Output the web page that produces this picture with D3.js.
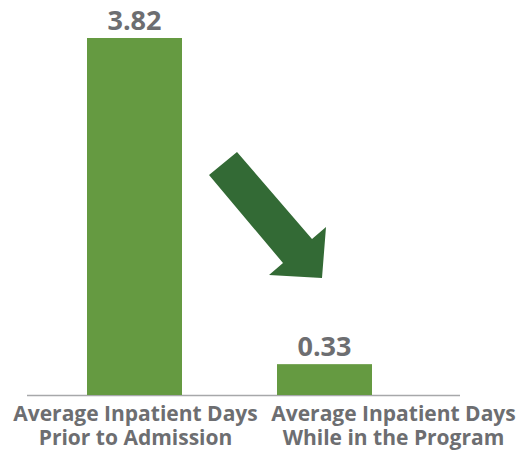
<!DOCTYPE html>
<html lang="en">
<head>
    <meta charset="utf-8">
    <title>Average Inpatient Days</title>
    <style>
        body { margin: 0; background: #fff; }
        text { font-family: "Open Sans", sans-serif; font-weight: 700; fill: #6d6e71; }
    </style>
</head>
<body>
    <div id="container"></div>
    <script src="https://cdn.jsdelivr.net/npm/d3@7"></script>
    <script>
        // Data
        const categories = ["Prior to Admission", "While in the Program"];
        const labelLines = [
            ["Average Inpatient Days", "Prior to Admission"],
            ["Average Inpatient Days", "While in the Program"]
        ];
        const values = [3.82, 0.33];

        // Chart dimensions
        const width = 519;
        const height = 451;
        const baseline = 395;
        const plotTop = 38;

        const svg = d3.select("#container").append("svg")
            .attr("width", width)
            .attr("height", height);

        // Scales
        const x = d3.scaleBand()
            .domain(categories)
            .range([39.5, 419.5])
            .paddingInner(0.5)
            .paddingOuter(0.25);

        const y = d3.scaleLinear()
            .domain([0, 3.82])
            .range([baseline, plotTop]);

        // Axis line
        svg.append("line")
            .attr("x1", 27)
            .attr("x2", 460)
            .attr("y1", baseline + 0.5)
            .attr("y2", baseline + 0.5)
            .attr("stroke", "#a7a8aa")
            .attr("stroke-width", 1.5);

        // Bars
        svg.selectAll("rect.bar")
            .data(values)
            .enter().append("rect")
            .attr("class", "bar")
            .attr("x", (d, i) => x(categories[i]))
            .attr("width", x.bandwidth())
            .attr("y", d => y(d))
            .attr("height", d => baseline - y(d))
            .attr("fill", "#659a41");

        // Value labels
        svg.selectAll("text.value")
            .data(values)
            .enter().append("text")
            .attr("class", "value")
            .attr("text-anchor", "middle")
            .attr("x", (d, i) => x(categories[i]) + x.bandwidth() / 2)
            .attr("y", d => y(d) - 8)
            .style("font-size", "27px")
            .text(d => d.toFixed(2));

        // Category labels (the second one sits to the right of its bar)
        const labelOffsets = [1, 69];
        labelLines.forEach((lines, i) => {
            const cx = x(categories[i]) + x.bandwidth() / 2 + labelOffsets[i];
            lines.forEach((line, j) => {
                svg.append("text")
                    .attr("text-anchor", "middle")
                    .attr("x", cx)
                    .attr("y", 421 + j * 24)
                    .style("font-size", "21px")
                    .text(line);
            });
        });

        // Down arrow
        const arrow = [[209, 175], [237, 152], [312, 239], [326, 227], [322, 278], [269, 275], [283, 263]];
        svg.append("polygon")
            .attr("points", arrow.map(p => p.join(",")).join(" "))
            .attr("fill", "#336a35");
    </script>
</body>
</html>
